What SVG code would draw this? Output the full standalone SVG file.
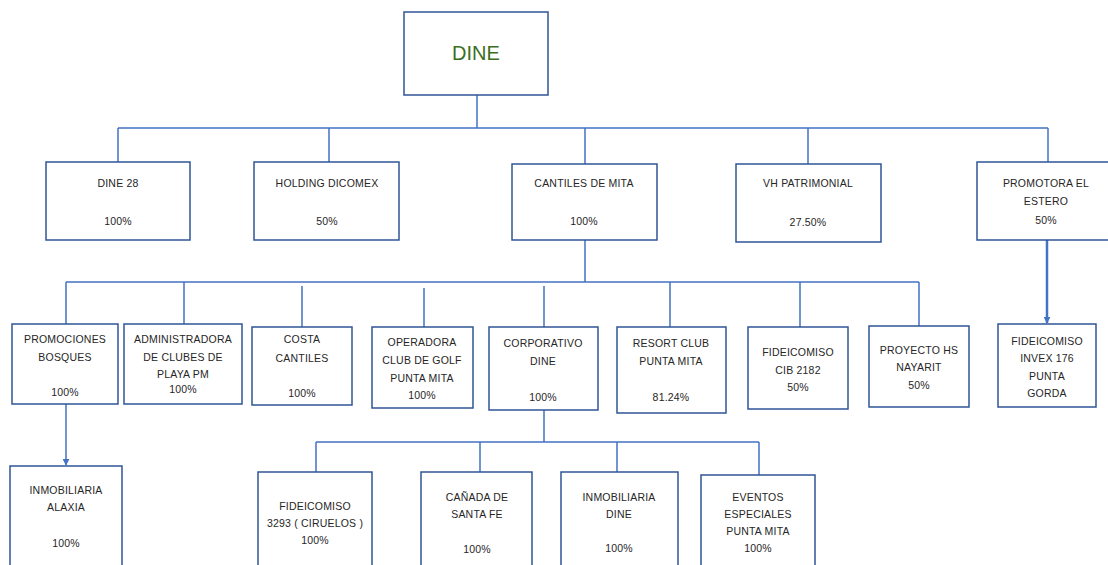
<svg xmlns="http://www.w3.org/2000/svg" width="1108" height="565" viewBox="0 0 1108 565">
<style>
.box{fill:#fff;stroke:#2f5597;stroke-width:1.5}
.ln{fill:none;stroke:#4472c4;stroke-width:1.5}
.t{font-family:"Liberation Sans",Arial,sans-serif;font-size:10.5px;fill:#262626;text-anchor:middle;letter-spacing:0.2px}
.title{font-family:"Liberation Sans",Arial,sans-serif;font-size:20px;fill:#3b6e22;text-anchor:middle}
</style>
<defs>
<marker id="arr" viewBox="0 0 10 10" refX="9" refY="5" markerWidth="7" markerHeight="7" markerUnits="userSpaceOnUse" orient="auto"><path d="M0,0L10,5L0,10z" fill="#4472c4"/></marker>
</defs>
<rect width="1108" height="565" fill="#fff"/>
<g id="connectors">
<path class="ln" d="M477,95V128M118,128H1048M118,128V162M329,128V162M585,128V164M808,128V164"/>
<path class="ln" d="M1048,128V162"/>
<path class="ln" d="M585,240V282M66,282H919M66,282V324M184,282V324M302,286V327M424,288V327M544,286V327M670,282V327M800,282V327M919,282V326"/>
<path class="ln" d="M1047,240V323" style="stroke-width:2.5" marker-end="url(#arr)"/>
<path class="ln" d="M66,404V465" marker-end="url(#arr)"/>
<path class="ln" d="M544,410V442M316,442H759M316,442V472M480,442V472M617,442V472M759,442V475"/>
</g>
<g id="n-dine"><rect class="box" x="404" y="12" width="144" height="83"/><text class="title" x="476" y="60">DINE</text></g>
<g id="n-dine28"><rect class="box" x="46" y="162" width="144" height="78"/><text class="t" x="118" y="187">DINE 28</text><text class="t" x="118" y="225">100%</text></g>
<g id="n-holding"><rect class="box" x="254" y="162" width="145" height="78"/><text class="t" x="327" y="187">HOLDING DICOMEX</text><text class="t" x="327" y="225">50%</text></g>
<g id="n-cantiles"><rect class="box" x="512" y="164" width="145" height="76"/><text class="t" x="584" y="187">CANTILES DE MITA</text><text class="t" x="584" y="225">100%</text></g>
<g id="n-vh"><rect class="box" x="736" y="164" width="145" height="78"/><text class="t" x="808" y="187">VH PATRIMONIAL</text><text class="t" x="808" y="226">27.50%</text></g>
<g id="n-promotora"><rect class="box" x="977" y="162" width="140" height="78"/><text class="t" x="1046" y="187">PROMOTORA EL</text><text class="t" x="1046" y="205">ESTERO</text><text class="t" x="1046" y="224">50%</text></g>
<g id="n-promociones"><rect class="box" x="12" y="324" width="106" height="80"/><text class="t" x="65" y="343">PROMOCIONES</text><text class="t" x="65" y="361">BOSQUES</text><text class="t" x="65" y="396">100%</text></g>
<g id="n-admin"><rect class="box" x="124" y="324" width="118" height="80"/><text class="t" x="183" y="343">ADMINISTRADORA</text><text class="t" x="183" y="361">DE CLUBES DE</text><text class="t" x="183" y="378">PLAYA PM</text><text class="t" x="183" y="393">100%</text></g>
<g id="n-costa"><rect class="box" x="252" y="327" width="100" height="78"/><text class="t" x="302" y="343">COSTA</text><text class="t" x="302" y="362">CANTILES</text><text class="t" x="302" y="397">100%</text></g>
<g id="n-operadora"><rect class="box" x="372" y="327" width="101" height="81"/><text class="t" x="422" y="346">OPERADORA</text><text class="t" x="422" y="364">CLUB DE GOLF</text><text class="t" x="422" y="382">PUNTA MITA</text><text class="t" x="422" y="399">100%</text></g>
<g id="n-corporativo"><rect class="box" x="489" y="327" width="109" height="83"/><text class="t" x="543" y="347">CORPORATIVO</text><text class="t" x="543" y="365">DINE</text><text class="t" x="543" y="401">100%</text></g>
<g id="n-resort"><rect class="box" x="617" y="327" width="109" height="86"/><text class="t" x="671" y="347">RESORT CLUB</text><text class="t" x="671" y="365">PUNTA MITA</text><text class="t" x="671" y="401">81.24%</text></g>
<g id="n-fid2182"><rect class="box" x="748" y="327" width="100" height="82"/><text class="t" x="798" y="356">FIDEICOMISO</text><text class="t" x="798" y="374">CIB 2182</text><text class="t" x="798" y="391">50%</text></g>
<g id="n-proyecto"><rect class="box" x="869" y="326" width="100" height="81"/><text class="t" x="919" y="354">PROYECTO HS</text><text class="t" x="919" y="371">NAYARIT</text><text class="t" x="919" y="389">50%</text></g>
<g id="n-invex"><rect class="box" x="998" y="324" width="98" height="83"/><text class="t" x="1047" y="345">FIDEICOMISO</text><text class="t" x="1047" y="362">INVEX 176</text><text class="t" x="1047" y="380">PUNTA</text><text class="t" x="1047" y="397">GORDA</text></g>
<g id="n-alaxia"><rect class="box" x="10" y="466" width="112" height="110"/><text class="t" x="66" y="494">INMOBILIARIA</text><text class="t" x="66" y="511">ALAXIA</text><text class="t" x="66" y="547">100%</text></g>
<g id="n-fid3293"><rect class="box" x="258" y="472" width="114" height="104"/><text class="t" x="315" y="510">FIDEICOMISO</text><text class="t" x="315" y="527">3293 ( CIRUELOS )</text><text class="t" x="315" y="544">100%</text></g>
<g id="n-canada"><rect class="box" x="421" y="472" width="111" height="104"/><text class="t" x="477" y="501">CAÑADA DE</text><text class="t" x="477" y="518">SANTA FE</text><text class="t" x="477" y="553">100%</text></g>
<g id="n-inmdine"><rect class="box" x="561" y="472" width="117" height="104"/><text class="t" x="619" y="501">INMOBILIARIA</text><text class="t" x="619" y="518">DINE</text><text class="t" x="619" y="552">100%</text></g>
<g id="n-eventos"><rect class="box" x="701" y="475" width="114" height="101"/><text class="t" x="758" y="501">EVENTOS</text><text class="t" x="758" y="518">ESPECIALES</text><text class="t" x="758" y="535">PUNTA MITA</text><text class="t" x="758" y="552">100%</text></g>
</svg>
